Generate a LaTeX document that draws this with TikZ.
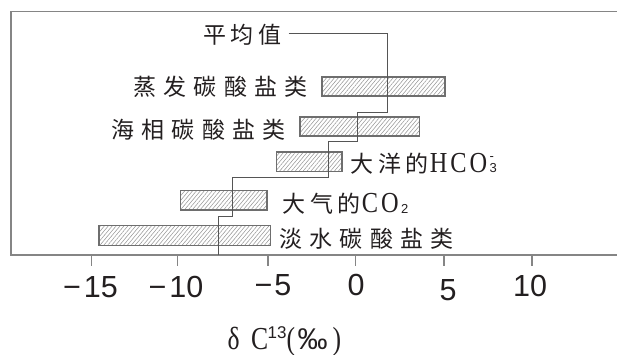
\documentclass[tikz,border=0pt]{standalone}
\usepackage{fontspec}
\setmainfont{Liberation Serif}
\newfontfamily\cjkA{Noto Sans CJK SC}[LetterSpace=21]
\newfontfamily\cjkB{Noto Sans CJK SC}[LetterSpace=32]
\newfontfamily\cserif{Liberation Serif}[FakeStretch=0.84,LetterSpace=10]
\newfontfamily\aserif{Liberation Serif}[FakeStretch=0.8]
\newfontfamily\tsans{Liberation Sans}
\usetikzlibrary{patterns.meta}
\definecolor{framegray}{HTML}{858585}
\definecolor{bargray}{HTML}{6E6E6E}
\definecolor{hatchgray}{HTML}{989898}
\definecolor{linegray}{HTML}{555555}
\definecolor{txt}{HTML}{231F20}
\begin{document}
\begin{tikzpicture}[x=1pt,y=-1pt,
  frameline/.style={draw=framegray,line width=1.4pt},
  tickline/.style={draw=framegray,line width=1.2pt},
  barbox/.style={draw=bargray,line width=1.2pt,pattern={Lines[angle=50,distance=3pt,line width=0.55pt]},pattern color=hatchgray},
  meanline/.style={draw=linegray,line width=1.1pt},
  lblA/.style={inner sep=0pt,text=txt,font=\cjkA\fontsize{23}{23}\selectfont},
  lblB/.style={inner sep=0pt,text=txt,font=\cjkB\fontsize{23}{23}\selectfont},
  ticklabel/.style={inner sep=0pt,anchor=base,text=txt,font=\tsans\fontsize{30.5}{30.5}\selectfont},
  ]
\useasboundingbox (0,0) rectangle (617,355);
% bars
\path[barbox] (322,77) rectangle (445,96);
\path[barbox] (300,117) rectangle (419.5,136);
\path[barbox] (276.5,152) rectangle (342,171.5);
\path[barbox] (180.3,190.5) rectangle (267,210);
\path[barbox] (99,225.7) rectangle (270.5,245.7);
% frame
\draw[frameline] (617,11.7) -- (11,11.7) -- (11,255) -- (617,255);
% ticks
\foreach \tx/\nm in {91.3/a,177.8/b,268/c,355.5/d,444/e,531.9/f}{
  \coordinate (t\nm) at (\tx,255);
  \draw[tickline] (t\nm) -- ++(0,11);
}
% labels
\node[lblA,anchor=base east] (mean) at (282,44) {平均值};
\node[lblB,anchor=base east] (evap) at (308,95.5) {蒸发碳酸盐类};
\node[lblB,anchor=base east] (marine) at (286,139) {海相碳酸盐类};
\node[lblA,anchor=base west] (ocean) at (350,172.5) {大洋的\hspace{1pt}{\cserif\fontsize{29}{29}\selectfont HCO}\hspace{2.5pt}{\tsans\fontsize{13}{13}\selectfont\makebox[0pt][l]{\raisebox{11.5pt}{-}}\raisebox{-0.5pt}{3}}};
\node[lblA,anchor=base west] (air) at (282,212.5) {大气的\hspace{1pt}{\cserif\fontsize{29}{29}\selectfont CO}\hspace{2.5pt}{\tsans\fontsize{13}{13}\selectfont\raisebox{-0.5pt}{2}}};
\node[lblB,anchor=base west] (fresh) at (279,247.5) {淡水碳酸盐类};
% mean line
\coordinate (m0) at (288.5,33.3);
\coordinate (m5) at (218.3,255);
\draw[meanline] (m0) -| (387.8,112.3) -| (357.5,141.7) -| (328.5,177.3) -| (232.3,216.7) -| (m5);
% tick labels
\node[ticklabel] (la) at (90.5,297.5) {−\kern3pt15};
\node[ticklabel] (lb) at (176,297.5) {−\kern3pt10};
\node[ticklabel] (lc) at (273,295.5) {−\kern2pt5};
\node[ticklabel] (ld) at (356,295) {0};
\node[ticklabel] (le) at (448,300) {5};
\node[ticklabel] (lf) at (530,296.5) {10};
% axis title
\node[inner sep=0pt,anchor=base west,text=txt,font=\aserif\fontsize{32}{32}\selectfont] (xt) at (227.5,349) {\makebox[23.5pt][l]{δ}\makebox[16.5pt][l]{C}\makebox[19pt][l]{\raisebox{10.5pt}{\tsans\fontsize{17}{17}\selectfont 13}}\makebox[11pt][l]{(}\makebox[35pt][l]{\tsans\fontsize{30}{30}\selectfont ‰}\makebox[10pt][l]{)}};
\end{tikzpicture}
\end{document}
